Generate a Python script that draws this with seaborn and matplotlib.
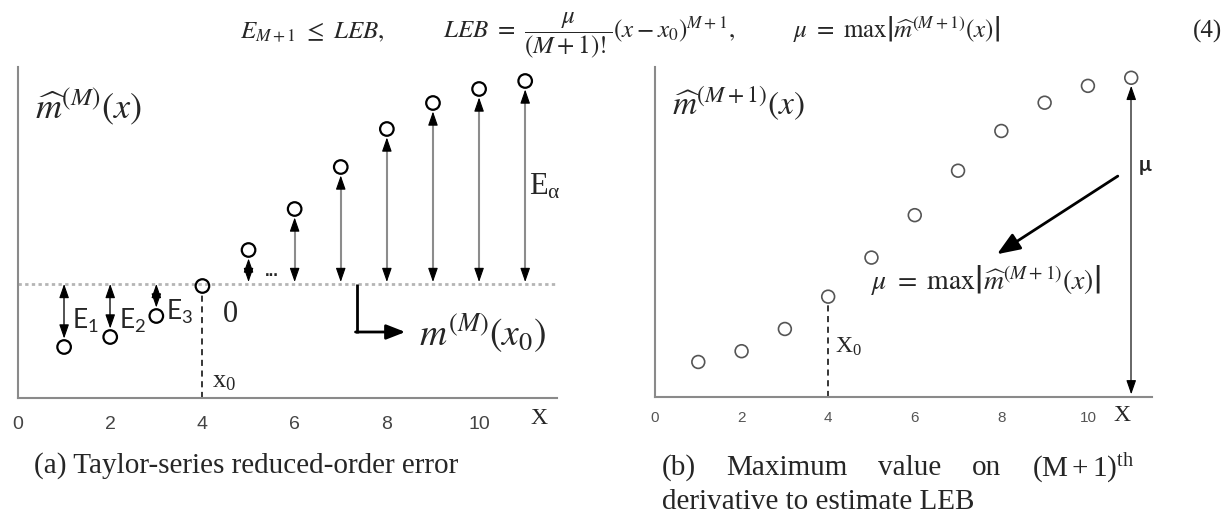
import numpy as np
import pandas as pd
import seaborn as sns
import matplotlib
matplotlib.use("Agg")
import matplotlib.pyplot as plt

# ---------------- data ----------------
x_left = [1, 2, 3, 4, 5, 6, 7, 8, 9, 10, 11]
m_hat_M = [0.51, 0.61, 0.82, 1.12, 1.48, 1.89, 2.31, 2.69, 2.95, 3.09, 3.17]
m_M_x0 = 1.14
x0 = 4
x_right = [1, 2, 3, 4, 5, 6, 7, 8, 9, 10, 11]
m_hat_M1 = [0.52, 0.68, 1.01, 1.49, 2.07, 2.70, 3.36, 3.95, 4.37, 4.62, 4.74]
xticks = [0, 2, 4, 6, 8, 10]
xticklabels = ["0", "2", "4", "6", "8", "10"]
left_yticks = [1, 2, 3]
right_yticks = [1, 2, 3, 4]

W, H = 1228, 516

sns.set_theme(style="white")
plt.rcParams["font.family"] = ["Liberation Sans", "DejaVu Sans"]
plt.rcParams["mathtext.fontset"] = "stix"

fig = plt.figure(figsize=(W / 100, H / 100), dpi=100)
axL = fig.add_axes([18 / W, (H - 398) / H, 539 / W, 331 / H])
axR = fig.add_axes([655 / W, (H - 397) / H, 497 / W, 330 / H])

SPINE = "#8a8a8a"
for ax in (axL, axR):
    for s in ("top", "right"):
        ax.spines[s].set_visible(False)
    for s in ("left", "bottom"):
        ax.spines[s].set_color(SPINE)
        ax.spines[s].set_linewidth(1.5)
    ax.set_facecolor("white")

# ---------------- left panel ----------------
sns.scatterplot(x=x_left, y=m_hat_M, ax=axL, s=95, marker="o", color="black",
                linewidth=1.6, zorder=6)
c = axL.collections[-1]
c.set_facecolor("none")
c.set_edgecolor("black")

axL.set_xlim(0, 11.69)
axL.set_ylim(0, 3.31)
axL.set_xticks(xticks)
axL.set_xticklabels(xticklabels)
axL.set_yticks(left_yticks)
axL.set_yticklabels([])
axL.tick_params(axis="both", direction="in", length=4, width=1, color=SPINE)
axL.tick_params(axis="x", pad=13, labelsize=14, labelcolor="#444444")
axL.set_xlabel("")
axL.set_ylabel("")

axL.axhline(m_M_x0, color="#b5b5b5", lw=2, ls=(0, (1.2, 1.2)), zorder=1)
axL.plot([x0, x0], [0, m_hat_M[x0 - 1] - 0.07], color="black", lw=1.1,
         ls=(0, (4, 3)), zorder=2)


def head(ax, x, tip, base, ms=10, hl=0.86, hw=0.3):
    ax.annotate("", xy=(x, tip), xytext=(x, base),
                arrowprops=dict(arrowstyle=f"-|>,head_length={hl},head_width={hw}",
                                color="black", lw=0.8, shrinkA=0, shrinkB=0,
                                mutation_scale=ms), zorder=5)


HL = 0.12  # head length in data units (left)
for xi, yi in zip(x_left, m_hat_M):
    if xi == x0:
        continue
    if yi < m_M_x0:
        top, bot = m_M_x0, yi + 0.085
        if top - HL > bot + HL:
            axL.plot([xi, xi], [bot + HL, top - HL], color="#444444", lw=1.3, zorder=3)
        head(axL, xi, top, top - HL)
        head(axL, xi, bot, bot + HL)
    else:
        bot, top = m_M_x0 + 0.02, yi - 0.085
        if top - HL > bot + HL:
            axL.plot([xi, xi], [bot + HL, top - HL], color="#8c8c8c", lw=1.5, zorder=3)
        head(axL, xi, top, top - HL)
        head(axL, xi, bot, bot + HL)

# L-shaped arrow to m^(M)(x0)
axL.plot([7.36, 7.36], [m_M_x0, 0.655], color="black", lw=2, solid_capstyle="butt",
         zorder=4)
axL.annotate("", xy=(8.4, 0.66), xytext=(7.32, 0.66),
             arrowprops=dict(arrowstyle="-|>,head_length=1.15,head_width=0.45",
                             color="black", lw=2, shrinkA=0, shrinkB=0,
                             mutation_scale=10), zorder=4)

axL.text(0.37, 2.91, r"$\widehat{m}^{(M)}(x)$", fontsize=26, va="center", ha="left")
axL.text(1.18, 0.77, r"$\mathregular{E_1}$", fontsize=19, family="Lato",
         va="center", ha="left")
axL.text(2.18, 0.77, r"$\mathregular{E_2}$", fontsize=19, family="Lato",
         va="center", ha="left")
axL.text(3.22, 0.86, r"$\mathregular{E_3}$", fontsize=19, family="Lato",
         va="center", ha="left")
axL.text(4.45, 0.84, "0", fontsize=22, family="Liberation Serif", va="center", ha="left")
axL.text(4.2, 0.16, r"$\mathregular{x_0}$", fontsize=19, family="Liberation Serif",
         va="center", ha="left")
axL.text(5.5, 1.27, "...", fontsize=12, fontweight="bold", va="center", ha="center")
axL.text(8.7, 0.65, r"$m^{(M)}(x_0)$", fontsize=27, va="center", ha="left")
axL.text(11.08, 2.11, r"$\mathregular{E_α}$", fontsize=22, family="Liberation Serif",
         va="center", ha="left")
axL.text(11.3, -0.2, "X", fontsize=17, family="Liberation Serif", va="center",
         ha="center", clip_on=False)

# ---------------- right panel ----------------
sns.scatterplot(x=x_right, y=m_hat_M1, ax=axR, s=85, marker="o", color="#555555",
                linewidth=1.2, zorder=6)
c = axR.collections[-1]
c.set_facecolor("none")
c.set_edgecolor("#555555")

axR.set_xlim(0, 11.48)
axR.set_ylim(0, 4.9)
axR.set_xticks(xticks)
axR.set_xticklabels(xticklabels)
axR.set_yticks(right_yticks)
axR.set_yticklabels([])
axR.tick_params(axis="both", direction="in", length=4, width=1, color=SPINE)
axR.tick_params(axis="x", pad=10, labelsize=11, labelcolor="#555555")
axR.set_xlabel("")
axR.set_ylabel("")

axR.plot([x0, x0], [0, m_hat_M1[x0 - 1] - 0.1], color="black", lw=1.1,
         ls=(0, (4, 3)), zorder=2)

# mu vertical double arrow
xm = x_right[-1]
top = max(m_hat_M1) - 0.12
HLR = 0.17
axR.plot([xm, xm], [0.04 + HLR, top - HLR], color="#666666", lw=1.4, zorder=3)
head(axR, xm, top, top - HLR)
head(axR, xm, 0.04, 0.04 + HLR)

axR.annotate("", xy=(7.9, 2.12), xytext=(10.69, 3.28),
             arrowprops=dict(arrowstyle="-|>,head_length=1.4,head_width=0.55",
                             color="black", lw=2, shrinkA=0, shrinkB=0,
                             mutation_scale=10), zorder=4)

axR.text(0.39, 4.37, r"$\widehat{m}^{(M+1)}(x)$", fontsize=24, va="center", ha="left")
axR.text(5.0, 1.74, r"$\mu\ =\ \max\left|\widehat{m}^{(M+1)}(x)\right|$", fontsize=20,
         va="center", ha="left")
axR.text(11.18, 3.45, "μ", fontsize=15, family="Lato", fontweight="bold",
         va="center", ha="left")
axR.text(4.15, 0.75, r"$\mathregular{X_0}$", fontsize=17, family="Liberation Serif",
         va="center", ha="left")
axR.text(10.78, -0.28, "X", fontsize=17, family="Liberation Serif", va="center",
         ha="center", clip_on=False)

# ---------------- header equation ----------------
def fx(px):
    return px / W


def fy(py):
    return 1 - py / H


renderer = fig.canvas.get_renderer()

EQ = 18
BASE = 38
pieces = [r"$E_{M+1}\ \leq\ LEB,$",
          r"$LEB\ =\ \dfrac{\mu}{(M+1)!}(x-x_0)^{M+1},$",
          r"$\mu\ =\ \max\left|\widehat{m}^{(M+1)}(x)\right|$"]
eq_texts = [fig.text(0, fy(BASE), p, fontsize=EQ, va="baseline", ha="left")
            for p in pieces]
eq_w = [t.get_window_extent(renderer).width for t in eq_texts]
eq_left, eq_right = 240, 1000
eq_gap = (eq_right - eq_left - sum(eq_w)) / (len(pieces) - 1)
cur = eq_left
for t, w in zip(eq_texts, eq_w):
    t.set_x(fx(cur))
    cur += w + eq_gap
fig.text(fx(1222), fy(BASE), "(4)", fontsize=EQ, family="Liberation Serif",
         va="baseline", ha="right")

# ---------------- captions ----------------
CAP = 21
fig.text(fx(34), fy(466), "(a) Taylor-series reduced-order error", fontsize=CAP,
         family="Liberation Serif", va="center", ha="left")

words = ["(b)", "Maximum", "value", "on", r"$\mathregular{(M+1)^{th}}$"]
texts = [fig.text(0, fy(468), w, fontsize=CAP, family="Liberation Serif",
                  va="center", ha="left") for w in words]
widths = [t.get_window_extent(renderer).width for t in texts]
x_start, x_end = 662, 1134
gap = (x_end - x_start - sum(widths)) / (len(words) - 1)
cur = x_start
for t, w in zip(texts, widths):
    t.set_x(fx(cur))
    cur += w + gap
fig.text(fx(662), fy(502), "derivative to estimate LEB", fontsize=CAP,
         family="Liberation Serif", va="center", ha="left")

fig.savefig("out.png", dpi=100, facecolor="white")
